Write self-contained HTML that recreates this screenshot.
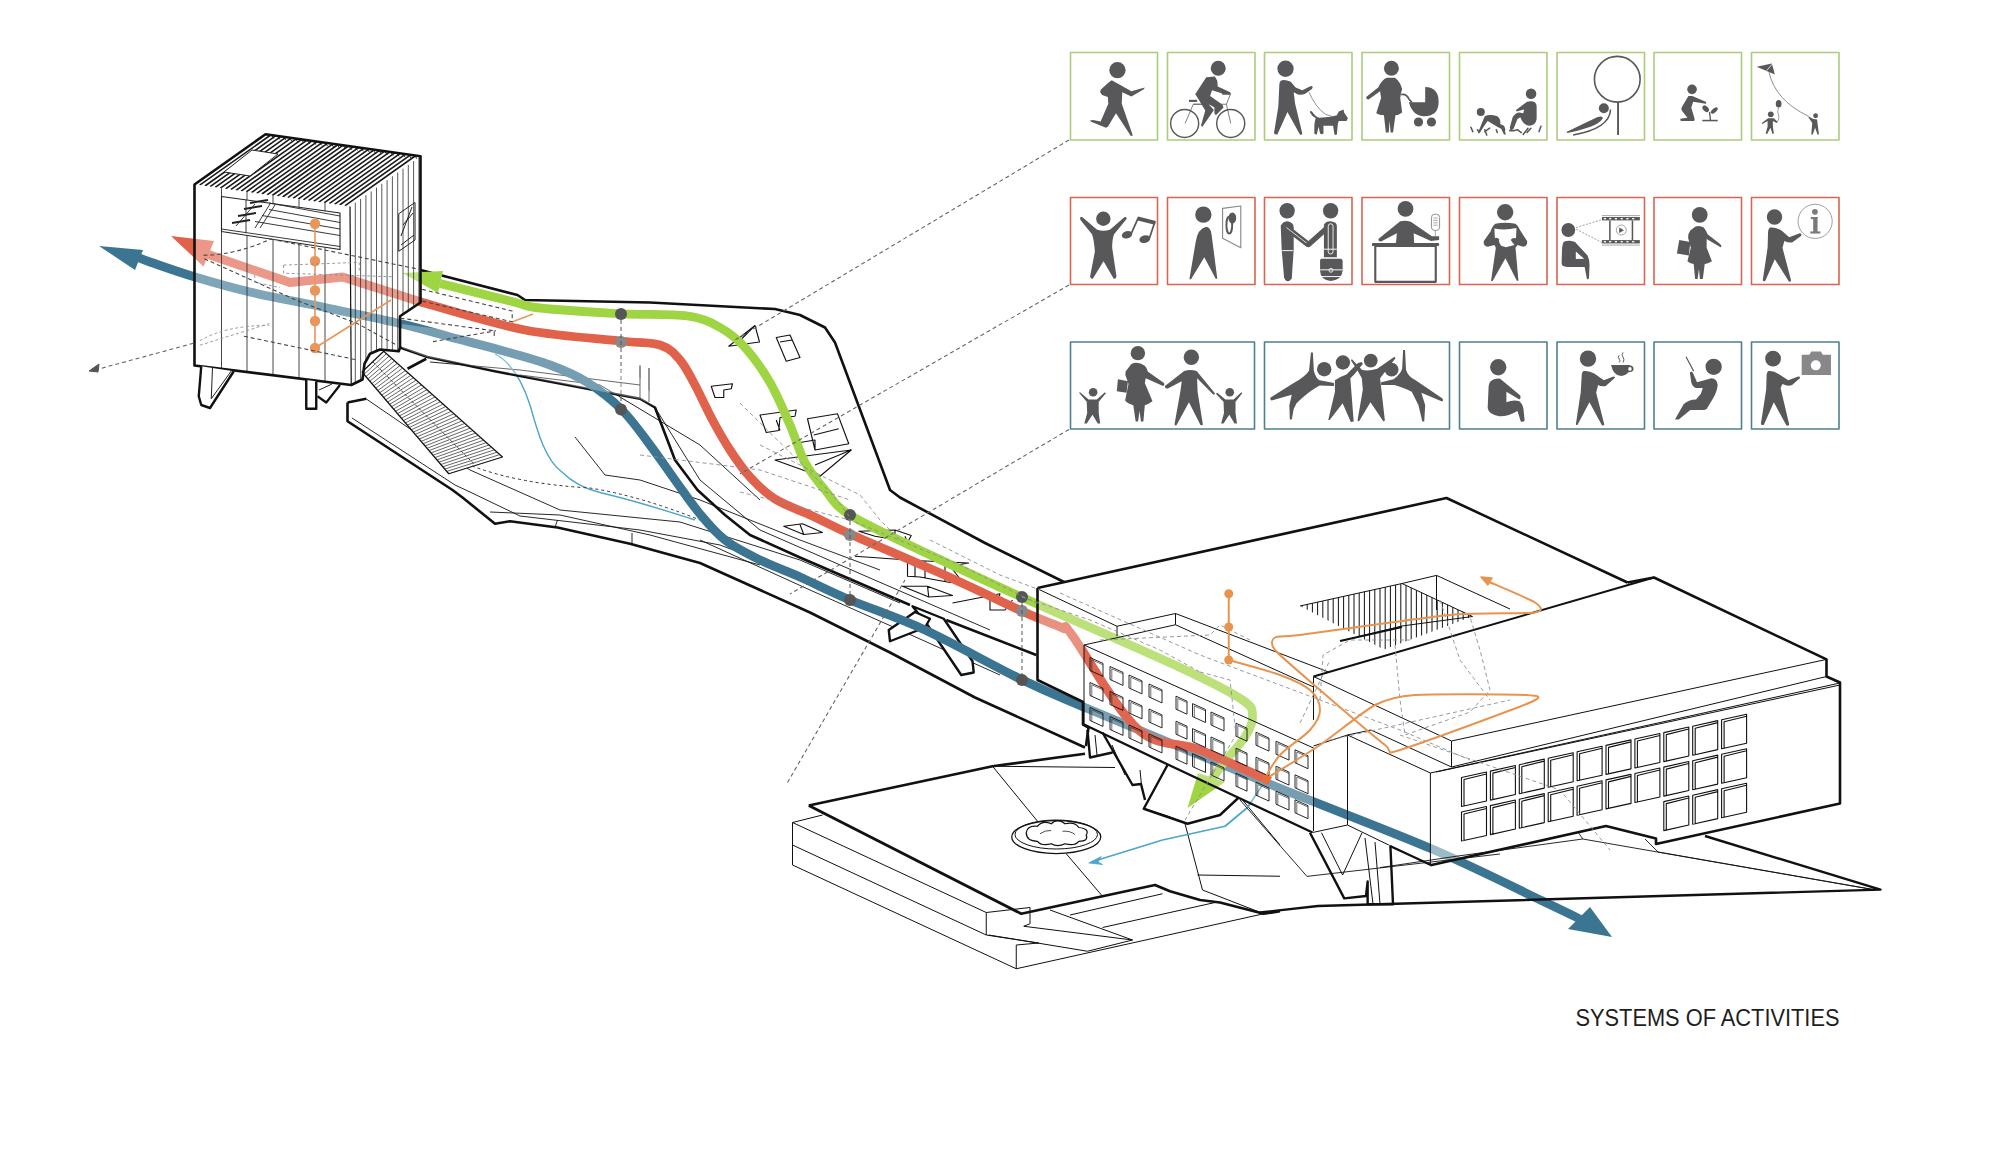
<!DOCTYPE html>
<html><head><meta charset="utf-8"><style>
html,body{margin:0;padding:0;background:#fff;width:2000px;height:1173px;overflow:hidden}
svg{display:block}
</style></head><body>
<svg width="2000" height="1173" viewBox="0 0 2000 1173" stroke-linejoin="round">
<g id="ground" fill="none" stroke="#111" stroke-linejoin="round" transform="translate(780,740) scale(0.25)">
 <g stroke-width="4">
  <path d="M50,330 L50,500 L945,915 L1935,695 M50,330 L170,300 M50,330 L825,690 L825,780 L50,420 M825,690 L1000,670 L1000,735 L975,745 M945,820 L945,915 M825,780 L1035,812 L945,820 M835,780 L1230,845 L1410,800 L975,745 M1080,680 L1410,800 M1160,700 L1530,615 M1290,750 L1740,650 M1620,335 L1690,600 L1935,695 M1670,540 L2000,545 M1850,240 L2000,420 M850,105 L1030,325 M1145,455 L1290,625 M850,105 L1340,110"/>
 </g>
 <path d="M115,262 L850,105 L1220,55 M115,262 L965,695 L1290,625 L1500,580 L1560,605 L1680,640 L1760,650 L1935,695 L2000,685" stroke-width="11"/>
 <!-- medallion -->
 <ellipse cx="1105" cy="388" rx="178" ry="66" stroke-width="5"/>
 <ellipse cx="1105" cy="378" rx="165" ry="58" stroke-width="4"/>
 <path d="M985,370 Q990,340 1030,345 Q1050,320 1085,335 Q1110,310 1140,335 Q1180,325 1195,350 Q1240,355 1225,380 Q1235,405 1195,405 Q1180,425 1140,415 Q1110,430 1085,415 Q1045,425 1030,405 Q985,405 985,370 Z" stroke-width="5"/>
 <path d="M1040,375 Q1060,360 1085,362 M1130,365 Q1160,362 1180,378" stroke-width="3"/>
 <!-- cyan arrow -->
 <path d="M1930,180 L1870,270 L1780,345 L1530,400 L1245,488" stroke="#4aa6cc" stroke-width="7"/>
 <path d="M1235,492 L1285,466 L1272,488 L1290,498 Z" fill="#4aa6cc" stroke="#4aa6cc" stroke-width="3"/>
</g>

<g id="deck" fill="none" stroke="#111" stroke-linejoin="round">
 <!-- deck surface fill to hide -->
 <!-- thin contour lines on lower platform -->
 <g stroke-width="0.9">
  <path d="M352,418 L455,485 L470,492 L520,516 L640,530 L720,545 L800,575 L905,620 L1000,668 L1085,712"/>
  <path d="M366,398.75 L470,470 L560,510 L680,522 L800,560 L900,603"/>
  <path d="M490,512 L560,515 L650,535 L760,565"/>
  <path d="M555,527.5 L557.5,520 M632,543 L632,533"/>
  <path d="M430,362 L520,370 L640,385"/>
  <path d="M520,375 L600,385 L700,445 L760,500"/>
  <path d="M575,437 L605,475 L640,480 L700,500"/>
  <path d="M640,365.5 L640,398.75 M649,368 L649,402"/>
  <path d="M655,407.5 L700,480 L760,530 L870,578 L990,630"/>
  <path d="M700,500 L800,540 L880,570"/>
  <path d="M700,540 L810,590 L900,630 L1000,675"/>
 </g>
 <!-- light blue line -->
 <path d="M495,353.75 C510,362 522,380 530,405 C537,430 545,460 562.5,472.5 C575,485 590,490 600,492.5 C640,502 670,512 695,520" stroke="#4aa6cc" stroke-width="1.4"/>
 <!-- stairs -->
 <path d="M362,372 L383.75,351.25 L502.5,457 L448.75,473.75 Z" fill="#fff" stroke-width="1.2"/>
 <path d="M364.0,374.3 L386.4,353.7 M365.9,376.6 L389.1,356.1 M367.9,378.9 L391.8,358.5 M369.9,381.2 L394.5,360.9 M371.9,383.6 L397.2,363.3 M373.8,385.9 L399.9,365.7 M375.8,388.2 L402.6,368.1 M377.8,390.5 L405.3,370.5 M379.7,392.8 L408.0,372.9 M381.7,395.1 L410.7,375.3 M383.7,397.4 L413.4,377.7 M385.7,399.8 L416.1,380.1 M387.6,402.1 L418.8,382.5 M389.6,404.4 L421.5,384.9 M391.6,406.7 L424.2,387.3 M393.5,409.0 L426.9,389.7 M395.5,411.3 L429.6,392.1 M397.5,413.6 L432.3,394.5 M399.5,415.9 L435.0,396.9 M401.4,418.2 L437.7,399.3 M403.4,420.6 L440.4,401.7 M405.4,422.9 L443.1,404.1 M407.3,425.2 L445.8,406.5 M409.3,427.5 L448.5,408.9 M411.3,429.8 L451.2,411.3 M413.3,432.1 L453.9,413.7 M415.2,434.4 L456.6,416.1 M417.2,436.8 L459.3,418.5 M419.2,439.1 L462.0,420.9 M421.1,441.4 L464.7,423.4 M423.1,443.7 L467.4,425.8 M425.1,446.0 L470.1,428.2 M427.1,448.3 L472.8,430.6 M429.0,450.6 L475.5,433.0 M431.0,452.9 L478.2,435.4 M433.0,455.2 L480.9,437.8 M434.9,457.6 L483.6,440.2 M436.9,459.9 L486.3,442.6 M438.9,462.2 L489.0,445.0 M440.9,464.5 L491.7,447.4 M442.8,466.8 L494.4,449.8 M444.8,469.1 L497.1,452.2 M446.8,471.4 L499.8,454.6" stroke="#333" stroke-width="0.75"/><path d="M373,362 L475,465" stroke="#333" stroke-width="0.9" stroke-dasharray="3 2"/>
 <path d="M400,320 L520,336 L640,372 L650,385 L654,406 L640,399 L427,357 L400,347 Z" fill="#fff" fill-opacity="0.0" stroke="none"/>
 <path d="M472,466 Q520,484 590,488 Q640,496 700,520" stroke="#333" stroke-width="1" stroke-dasharray="3 3"/>
 <!-- thick outlines -->
 <g stroke-width="2.6">
  <path d="M420.5,270 L517.5,295 L525,300 L650,302.5 L775,309 L800,315 L825,327.5 L835,342.5 L890,490 L900,497.5 L985,543 L1065,582.5"/>
  <path d="M400,347.5 L427.5,357 L495,371.25 L640,398.75 L655,407.5 L675,460 L697.5,490 L725,515 L750,535 L800,557.5 L910,605"/>
  <path d="M946.25,620 L1036.25,655"/>
  <path d="M347.5,402.5 L347.5,421.25 L452.5,490 L462.5,497.5 L495,523.75 L510,521.25 L557.5,527.5 L630,543.75 L700,563 L810,612.5 L890,652.5 L975,697.5 L1085,747.5"/>
  <path d="M347.5,402.5 L366.25,398.75 M407.5,368.75 L426.25,358.75"/>
 </g>
 <!-- X piloti -->
 <path d="M912.5,606.25 L943.75,618.75 L972.5,661.25 L973.75,672.5 L961.25,675 L927.5,625 Z" fill="#fff" stroke-width="2.4"/>
 <path d="M888.75,630 L890,641.25 L925,627.5 L930,618.75 L915,612 Z" fill="#fff" stroke-width="2.4"/>
 <!-- small skylight shapes on deck -->
 <g transform="translate(600,250) scale(0.25)" stroke-width="4.5">
  <path d="M515,385 L620,302 L638,368 Z M560,362 L620,302"/>
  <path d="M705,350 L760,340 L800,430 L745,445 Z M720,368 L768,360"/>
  <path d="M445,545 L530,535 L525,555 L495,560 L495,590 L460,590 Z"/>
  <path d="M640,660 L785,640 L780,665 L720,670 L715,722 L665,730 Z M705,680 L720,722"/>
  <path d="M830,675 L950,655 L995,775 L860,800 Z M855,740 L955,715 M800,770 L860,760 L860,800"/>
  <path d="M700,840 L1005,800 L880,905 Z M860,860 L1005,800"/>
  <path d="M735,1105 L810,1095 L890,1130 L815,1138 Z M800,1098 L815,1138"/>
 </g>
 <g transform="translate(700,480) scale(0.25)" stroke-width="4.5">
  <path d="M635,205 L780,200 L845,222 L830,250 L760,235 L700,225 Z M780,200 L780,230 M820,225 L830,250"/>
  <path d="M620,305 L860,322 L1075,332 L1000,345 L1040,395 L1000,410 L880,388 L830,385 L830,320 M860,322 L860,385 M900,325 L900,390 M980,345 L980,405"/>
  <path d="M810,425 L910,425 L1010,462 L915,468 Z M910,425 L915,468"/>
  <path d="M1010,492 L1200,455 L1190,490 M1160,470 L1160,520 L1220,520 L1250,480"/>
 </g>

</g>

<g id="arrows" fill="none" stroke-linejoin="round">
<path d="M137.0,257.0 C139.2,257.8 140.3,258.7 150.0,262.0 C159.7,265.3 178.3,272.0 195.0,277.0 C211.7,282.0 228.3,286.9 250.0,292.0 C271.7,297.1 300.0,302.2 325.0,307.5 C350.0,312.8 379.2,318.6 400.0,323.5 C420.8,328.4 433.3,332.6 450.0,337.0 C466.7,341.4 483.3,345.3 500.0,350.0 C516.7,354.7 535.4,359.6 550.0,365.0 C564.6,370.4 575.5,375.0 587.5,382.5 C599.5,390.0 611.6,399.6 622.0,410.0 C632.4,420.4 641.2,433.3 650.0,445.0 C658.8,456.7 666.7,468.5 675.0,480.0 C683.3,491.5 691.7,504.0 700.0,514.0 C708.3,524.0 715.0,532.3 725.0,540.0 C735.0,547.7 747.5,553.8 760.0,560.0 C772.5,566.2 785.0,570.3 800.0,577.0 C815.0,583.7 829.2,591.2 850.0,600.0 C870.8,608.8 896.2,616.7 925.0,630.0 C953.8,643.3 995.8,667.1 1022.5,680.0 C1049.2,692.9 1043.8,690.2 1085.0,707.5 C1126.2,724.8 1211.7,760.4 1269.5,784.0 C1327.3,807.6 1386.5,829.5 1432.0,849.0 C1477.5,868.5 1517.8,889.3 1542.5,901.0 C1567.2,912.7 1573.8,916.0 1580.0,919.0" stroke="#3b7592" stroke-width="8.8"/>
<path d="M99,246 L143,250 L135,270 Z" fill="#3b7592"/>
<path d="M1612,937 L1568,929 L1590,907 Z" fill="#3b7592"/>
<path d="M207.0,254.0 L290.0,282.5 L342.5,277.0 L422.5,302.5 L422.5,302.5 C439.6,307.1 491.9,323.6 525.0,330.0 C558.1,336.4 598.5,338.5 621.0,341.0 C643.5,343.5 650.2,341.8 660.0,345.0 C669.8,348.2 674.2,353.3 680.0,360.0 C685.8,366.7 689.6,375.0 695.0,385.0 C700.4,395.0 706.7,409.2 712.5,420.0 C718.3,430.8 723.8,440.5 730.0,450.0 C736.2,459.5 742.5,468.8 750.0,477.0 C757.5,485.2 764.6,492.5 775.0,499.0 C785.4,505.5 800.0,510.2 812.5,516.0 C825.0,521.8 827.1,523.8 850.0,534.0 C872.9,544.2 920.8,564.4 950.0,577.5 C979.2,590.6 1006.2,604.1 1025.0,612.5 C1043.8,620.9 1054.7,624.2 1062.5,628.0 C1070.3,631.8 1059.5,618.2 1072.0,635.0 C1084.5,651.8 1116.2,709.8 1137.5,729.0 C1158.8,748.2 1177.9,741.3 1200.0,750.0 C1222.1,758.7 1258.3,775.8 1270.0,781.0" stroke="#e0624b" stroke-width="8.8"/>
<path d="M171,236 L214,241 L203.5,266.5 Z" fill="#e0624b"/>
<path d="M440.0,283.5 C452.3,286.6 499.5,298.2 514.0,302.0 C528.5,305.8 521.0,304.8 527.0,306.0 C533.0,307.2 534.3,307.7 550.0,309.0 C565.7,310.3 598.1,312.6 621.0,313.8 C643.9,314.9 671.0,313.7 687.5,316.0 C704.0,318.3 710.4,322.2 720.0,327.5 C729.6,332.8 736.7,338.3 745.0,347.5 C753.3,356.7 762.5,369.6 770.0,382.5 C777.5,395.4 784.2,411.7 790.0,425.0 C795.8,438.3 799.2,451.7 805.0,462.5 C810.8,473.3 817.5,481.2 825.0,490.0 C832.5,498.8 833.3,504.6 850.0,515.0 C866.7,525.4 896.2,538.8 925.0,552.5 C953.8,566.2 980.0,578.3 1022.5,597.5 C1065.0,616.7 1143.3,650.4 1180.0,667.5 C1216.7,684.6 1230.4,691.8 1242.5,700.0 C1254.6,708.2 1252.1,710.8 1252.5,717.0 C1252.9,723.2 1250.1,729.0 1245.0,737.0 C1239.9,745.0 1228.2,757.0 1222.0,765.0 C1215.8,773.0 1210.3,781.7 1208.0,785.0" stroke="#9fd442" stroke-width="8.8"/>
<path d="M402.5,273 L443,271 L438,293 Z" fill="#9fd442"/>
<path d="M1187.5,808 L1198,773 L1225,782 Z" fill="#9fd442"/>
<g stroke="none"><circle cx="621" cy="314" r="6" fill="#555"/><circle cx="621" cy="342" r="6" fill="#888"/><circle cx="621" cy="409.5" r="6" fill="#555"/><circle cx="850" cy="515" r="6" fill="#555"/><circle cx="850" cy="535" r="6" fill="#888"/><circle cx="850" cy="600" r="6" fill="#555"/><circle cx="1022" cy="597" r="6" fill="#555"/><circle cx="1022" cy="611" r="6" fill="#888"/><circle cx="1022" cy="680" r="6" fill="#555"/></g>
<path d="M621,320 L621,404 M850,521 L850,595 M1022,603 L1022,675" stroke="#555" stroke-width="1" stroke-dasharray="4 3"/>
</g>
<g id="tower">
<defs><clipPath id="tclip"><path d="M194.5,184.5 L265.5,134.25 L420.5,156.25 L420.5,302.5 L400,316.25 L400,347.5 L398.75,351.25 L380,349.5 L370,353.75 L364.5,363.75 L362.5,379.5 L351.25,385 L194.5,365.5 Z"/></clipPath><clipPath id="topclip"><path d="M194.5,184.5 L265.5,134.25 L420.5,156.25 L350,206.5 Z"/></clipPath></defs>
<path d="M194.5,184.5 L265.5,134.25 L420.5,156.25 L420.5,302.5 L400,316.25 L400,347.5 L398.75,351.25 L380,349.5 L370,353.75 L364.5,363.75 L362.5,379.5 L351.25,385 L194.5,365.5 Z" fill="#fff" fill-opacity="0.35"/>
<path d="M194.5,184.5 L265.5,134.25 L420.5,156.25 L350,206.5 Z" fill="#fff"/>
<g clip-path="url(#topclip)"><path d="M199.7,185.2 L270.7,135.0 M204.9,186.0 L275.9,135.7 M210.1,186.7 L281.1,136.4 M215.2,187.4 L286.2,137.2 M220.4,188.2 L291.4,137.9 M225.6,188.9 L296.6,138.7 M230.8,189.6 L301.8,139.4 M236.0,190.4 L307.0,140.1 M241.2,191.1 L312.1,140.8 M246.3,191.8 L317.3,141.6 M251.5,192.6 L322.5,142.3 M256.7,193.3 L327.7,143.1 M261.9,194.0 L332.9,143.8 M267.1,194.8 L338.1,144.5 M272.2,195.5 L343.2,145.2 M277.4,196.2 L348.4,146.0 M282.6,197.0 L353.6,146.7 M287.8,197.7 L358.8,147.4 M293.0,198.4 L364.0,148.2 M298.2,199.2 L369.2,148.9 M303.4,199.9 L374.4,149.7 M308.5,200.6 L379.5,150.4 M313.7,201.4 L384.7,151.1 M318.9,202.1 L389.9,151.8 M324.1,202.8 L395.1,152.6 M329.3,203.6 L400.3,153.3 M334.5,204.3 L405.5,154.1 M339.6,205.0 L410.6,154.8 M344.8,205.8 L415.8,155.5" stroke="#1a1a1a" stroke-width="1.6" fill="none"/>
<path d="M271.5,135.1 l2.5,3.5 M277.4,135.9 l2.5,3.5 M283.4,136.8 l2.5,3.5 M289.3,137.6 l2.5,3.5 M295.3,138.5 l2.5,3.5 M301.3,139.3 l2.5,3.5 M307.2,140.2 l2.5,3.5 M313.2,141.0 l2.5,3.5 M319.2,141.9 l2.5,3.5 M325.1,142.7 l2.5,3.5 M331.1,143.6 l2.5,3.5 M337.0,144.4 l2.5,3.5 M343.0,145.2 l2.5,3.5 M349.0,146.1 l2.5,3.5 M354.9,146.9 l2.5,3.5 M360.9,147.8 l2.5,3.5 M366.8,148.6 l2.5,3.5 M372.8,149.5 l2.5,3.5 M378.8,150.3 l2.5,3.5 M384.7,151.2 l2.5,3.5 M390.7,152.0 l2.5,3.5 M396.7,152.9 l2.5,3.5 M402.6,153.7 l2.5,3.5 M408.6,154.6 l2.5,3.5 M414.5,155.4 l2.5,3.5" stroke="#222" stroke-width="1" fill="none"/>
<path d="M224,172 L252,150 L278,154 L250,176 Z" fill="#fff" stroke="#222" stroke-width="1"/>
</g>
<g clip-path="url(#tclip)"><path d="M221.5,188.3 L221.5,368.9 M247.0,191.9 L247.0,372.0 M273.0,195.6 L273.0,375.3 M299.0,199.3 L299.0,378.5 M325.0,203.0 L325.0,381.7" stroke="#333" stroke-width="0.9" fill="none"/><path d="M355.3,202.7 L355.3,400.0 M360.6,198.9 L360.6,400.0 M365.9,195.2 L365.9,400.0 M371.2,191.4 L371.2,400.0 M376.5,187.6 L376.5,400.0 M381.8,183.8 L381.8,400.0 M387.1,180.1 L387.1,400.0 M392.4,176.3 L392.4,400.0 M397.7,172.5 L397.7,400.0 M403.0,168.7 L403.0,400.0 M408.3,164.9 L408.3,400.0 M413.6,161.2 L413.6,400.0 M418.9,157.4 L418.9,400.0" stroke="#222" stroke-width="0.75" fill="none"/></g>
<path d="M350,206.5 L351.25,385" stroke="#111" stroke-width="1.2"/>
<path d="M221.5,196.5 L340,213 L340,249.5 L221.5,231.5 Z" fill="#fff" stroke="#222" stroke-width="1.1"/>
<path d="M221.5,229 L340,246.5 M246,200 L246,233" stroke="#222" stroke-width="0.9" fill="none"/>
<path d="M269,203 L340,216 M269,209.5 L340,222.5 M262,215.5 L340,229 M255,221.5 L340,235.5" stroke="#222" stroke-width="0.9" fill="none"/>
<path d="M255,228 L270,204 M260,228 L275,205 M236,226 L255,204" stroke="#222" stroke-width="0.9" fill="none"/>
<path d="M232,223 l18,-3 M238,216 l18,-3 M244,209 l18,-3 M250,203 l18,-3" stroke="#222" stroke-width="2" fill="none"/>
<path d="M398.75,213.75 L415,202.5 L415,240 L398.75,251.25 Z" fill="none" stroke="#222" stroke-width="1"/>
<path d="M401,236 L412,207 M403,225 L413,213 M401,245 L414,235" stroke="#222" stroke-width="1" fill="none"/>
<path d="M194.5,184.5 L265.5,134.25 L420.5,156.25 L420.5,302.5 L400,316.25 L400,347.5 L398.75,351.25 L380,349.5 L370,353.75 L364.5,363.75 L362.5,379.5 L351.25,385 L194.5,365.5 Z" fill="none" stroke="#111" stroke-width="2.6"/>
<path d="M201.25,366.25 L198.75,396.25 L201.25,405 L210,408 L233.75,371.25" fill="#fff" stroke="#111" stroke-width="2.4"/>
<path d="M212.5,367.5 L211.25,398.75 M211.25,398.75 L232,370" stroke="#222" stroke-width="1" fill="none"/>
<path d="M306.25,380 L306.25,408.75 L316.25,408.75 L316.25,381.25" fill="#fff" stroke="#111" stroke-width="2.4"/>
<path d="M317.5,396.25 L326.25,402.5 L340,385" fill="none" stroke="#111" stroke-width="2.2"/>
<path d="M319,390 L332,384" fill="none" stroke="#222" stroke-width="1"/>
<g fill="#e8965a" stroke="#e8965a"><path d="M315,224 L315,348 L391,300" stroke-width="1.6" fill="none"/><path d="M512,322 L533,314" stroke-width="1.4" fill="none"/>
<circle cx="315" cy="223.8" r="5.2" stroke="none"/>
<circle cx="315" cy="261.0" r="5.2" stroke="none"/>
<circle cx="315" cy="290.5" r="5.2" stroke="none"/>
<circle cx="315" cy="321.0" r="5.2" stroke="none"/>
<circle cx="315" cy="348.0" r="5.2" stroke="none"/>
</g></g>

<g id="building" fill="none" stroke="#111" stroke-linejoin="round">
<path d="M402,324 L520,340 L600,362 L640,378 L650,392 L654,406 L640,399 L427,357 L402,348 Z" fill="#fff" fill-opacity="0.3" stroke="none"/>
<path d="M1037.5,588 L1117,626 L1175.5,613.5 L1328.5,672 L1313.5,676.5 L1313.5,832 L1166,764 L1088,727.5 L1083,702 L1037.5,680 Z" fill="#fff" fill-opacity="0.3" stroke="none"/>
<path d="M1313.5,676.5 L1654,577.5 L1826.5,659.4 L1826.5,676.5 L1840,682.5 L1840,803.5 L1656,844 L1656,838.6 L1606,826 L1430.4,865.25 L1430.4,773 L1347.5,735 L1313.5,720 Z" fill="#fff" fill-opacity="0.5" stroke="none"/>
<path d="M1037.5,588 L1446.5,498 L1627.5,582.5 L1654,577.5 L1313.5,676.5 L1117,626 Z" fill="#fff" stroke="none"/>
<defs><clipPath id="court"><path d="M1300,606 L1402,583.5 L1472.5,616.5 L1384,649.5 Z"/></clipPath></defs>
<g clip-path="url(#court)"><path d="M1302.0,560 L1302.0,660 M1307.2,560 L1307.2,660 M1312.4,560 L1312.4,660 M1317.6,560 L1317.6,660 M1322.8,560 L1322.8,660 M1328.0,560 L1328.0,660 M1333.2,560 L1333.2,660 M1338.4,560 L1338.4,660 M1343.6,560 L1343.6,660 M1348.8,560 L1348.8,660 M1354.0,560 L1354.0,660 M1359.2,560 L1359.2,660 M1364.4,560 L1364.4,660 M1369.6,560 L1369.6,660 M1374.8,560 L1374.8,660 M1380.0,560 L1380.0,660 M1385.2,560 L1385.2,660 M1390.4,560 L1390.4,660 M1395.6,560 L1395.6,660 M1400.8,560 L1400.8,660 M1406.0,560 L1406.0,660 M1411.2,560 L1411.2,660 M1416.4,560 L1416.4,660 M1421.6,560 L1421.6,660 M1426.8,560 L1426.8,660 M1432.0,560 L1432.0,660 M1437.2,560 L1437.2,660 M1442.4,560 L1442.4,660 M1447.6,560 L1447.6,660 M1452.8,560 L1452.8,660 M1458.0,560 L1458.0,660 M1463.2,560 L1463.2,660 M1468.4,560 L1468.4,660 M1473.6,560 L1473.6,660" stroke-width="1"/></g>
<path d="M1300,606 L1402,583.5 L1472.5,616.5 M1402,583.5 L1436.5,575.4 L1510,609 M1436.5,575.4 L1436.5,610 M1345,640 L1402,626 L1472.5,616.5" stroke-width="1"/>
<path d="M1340,641 L1402,627" stroke-width="2"/>
<path d="M1037.5,588 L1446.5,498 L1627.5,582.5 M1627.5,582.5 L1654,577.5 L1826.5,659.4 L1826.5,676.5 L1840,682.5 L1840,803.5 L1656,844 L1656,838.6 L1606,826 L1430.4,865.25" stroke-width="2.6"/>
<path d="M1313.5,676.5 L1654,577.5" stroke-width="2"/>
<path d="M1037.5,588 L1037.5,680 L1083,702 L1083,724.5 L1088.5,727.5 L1086,746" stroke-width="2.6"/>
<path d="M1313.5,676.5 L1451.5,741 L1826.5,659.4 M1451.5,741 L1451.5,767 L1826.5,676.5 M1313.5,676.5 L1313.5,720 M1430.4,773 L1840,683 M1430.4,773 L1430.4,865.25 M1347.5,735 L1430.4,773 M1347.5,735 L1347.5,825 L1430.4,865.25 M1347.5,735 L1371,730 L1451.5,767 M1436,772 L1840,685" stroke-width="1"/>
<path d="M1461.5,777.5 L1486.5,772.0 L1486.5,801.0 L1461.5,806.5 Z M1464.0,806.5 L1464.0,779.5 L1486.5,774.0 M1461.5,812.0 L1486.5,806.5 L1486.5,835.5 L1461.5,841.0 Z M1464.0,841.0 L1464.0,814.0 L1486.5,808.5 M1490.4,771.1 L1515.4,765.5 L1515.4,794.5 L1490.4,800.1 Z M1492.9,800.1 L1492.9,773.1 L1515.4,767.5 M1490.4,805.6 L1515.4,800.0 L1515.4,829.0 L1490.4,834.6 Z M1492.9,834.6 L1492.9,807.6 L1515.4,802.0 M1519.3,764.7 L1544.3,759.1 L1544.3,788.1 L1519.3,793.7 Z M1521.8,793.7 L1521.8,766.7 L1544.3,761.1 M1519.3,799.2 L1544.3,793.6 L1544.3,822.6 L1519.3,828.2 Z M1521.8,828.2 L1521.8,801.2 L1544.3,795.6 M1548.2,758.3 L1573.2,752.7 L1573.2,781.7 L1548.2,787.3 Z M1550.7,787.3 L1550.7,760.3 L1573.2,754.7 M1548.2,792.8 L1573.2,787.2 L1573.2,816.2 L1548.2,821.8 Z M1550.7,821.8 L1550.7,794.8 L1573.2,789.2 M1577.1,751.8 L1602.1,746.3 L1602.1,775.3 L1577.1,780.8 Z M1579.6,780.8 L1579.6,753.8 L1602.1,748.3 M1577.1,786.3 L1602.1,780.8 L1602.1,809.8 L1577.1,815.3 Z M1579.6,815.3 L1579.6,788.3 L1602.1,782.8 M1606.0,745.4 L1631.0,739.9 L1631.0,768.9 L1606.0,774.4 Z M1608.5,774.4 L1608.5,747.4 L1631.0,741.9 M1606.0,779.9 L1631.0,774.4 L1631.0,803.4 L1606.0,808.9 Z M1608.5,808.9 L1608.5,781.9 L1631.0,776.4 M1634.9,739.0 L1659.9,733.5 L1659.9,762.5 L1634.9,768.0 Z M1637.4,768.0 L1637.4,741.0 L1659.9,735.5 M1634.9,773.5 L1659.9,768.0 L1659.9,797.0 L1634.9,802.5 Z M1637.4,802.5 L1637.4,775.5 L1659.9,770.0 M1663.8,732.6 L1688.8,727.0 L1688.8,756.0 L1663.8,761.6 Z M1666.3,761.6 L1666.3,734.6 L1688.8,729.0 M1663.8,767.1 L1688.8,761.5 L1688.8,790.5 L1663.8,796.1 Z M1666.3,796.1 L1666.3,769.1 L1688.8,763.5 M1663.8,801.6 L1688.8,796.0 L1688.8,825.0 L1663.8,830.6 Z M1666.3,830.6 L1666.3,803.6 L1688.8,798.0 M1692.7,726.2 L1717.7,720.6 L1717.7,749.6 L1692.7,755.2 Z M1695.2,755.2 L1695.2,728.2 L1717.7,722.6 M1692.7,760.7 L1717.7,755.1 L1717.7,784.1 L1692.7,789.7 Z M1695.2,789.7 L1695.2,762.7 L1717.7,757.1 M1692.7,795.2 L1717.7,789.6 L1717.7,818.6 L1692.7,824.2 Z M1695.2,824.2 L1695.2,797.2 L1717.7,791.6 M1721.6,719.8 L1746.6,714.2 L1746.6,743.2 L1721.6,748.8 Z M1724.1,748.8 L1724.1,721.8 L1746.6,716.2 M1721.6,754.3 L1746.6,748.7 L1746.6,777.7 L1721.6,783.3 Z M1724.1,783.3 L1724.1,756.3 L1746.6,750.7 M1721.6,788.8 L1746.6,783.2 L1746.6,812.2 L1721.6,817.8 Z M1724.1,817.8 L1724.1,790.8 L1746.6,785.2" stroke-width="1.1"/>
<!-- redtop --><defs><clipPath id="mwclip"><path d="M1084,645 L1313.5,748 L1313.5,832 L1166,764 L1084,724.5 Z"/></clipPath></defs><path d="M207.0,254.0 L290.0,282.5 L342.5,277.0 L422.5,302.5 L422.5,302.5 C439.6,307.1 491.9,323.6 525.0,330.0 C558.1,336.4 598.5,338.5 621.0,341.0 C643.5,343.5 650.2,341.8 660.0,345.0 C669.8,348.2 674.2,353.3 680.0,360.0 C685.8,366.7 689.6,375.0 695.0,385.0 C700.4,395.0 706.7,409.2 712.5,420.0 C718.3,430.8 723.8,440.5 730.0,450.0 C736.2,459.5 742.5,468.8 750.0,477.0 C757.5,485.2 764.6,492.5 775.0,499.0 C785.4,505.5 800.0,510.2 812.5,516.0 C825.0,521.8 827.1,523.8 850.0,534.0 C872.9,544.2 920.8,564.4 950.0,577.5 C979.2,590.6 1006.2,604.1 1025.0,612.5 C1043.8,620.9 1054.7,624.2 1062.5,628.0 C1070.3,631.8 1059.5,618.2 1072.0,635.0 C1084.5,651.8 1116.2,709.8 1137.5,729.0 C1158.8,748.2 1177.9,741.3 1200.0,750.0 C1222.1,758.7 1258.3,775.8 1270.0,781.0" stroke="#e0624b" stroke-width="8.8" clip-path="url(#mwclip)" stroke-opacity="0.9"/><!-- /redtop --><path d="M1037.5,588.75 L1117,626.25 L1117,636 M1117,626.25 L1175.5,613.5 L1328.5,672 M1175.5,613.5 L1175.5,624.75 M1084,645 L1175.5,624.75 L1313.5,687 M1084,645 L1313.5,748 M1084,645 L1084,724.5 M1313.5,748 L1313.5,831 M1313.5,746 L1347.5,735" stroke-width="1"/>
<path d="M1084,724.5 L1166.25,763.75 L1312.5,832.5" stroke-width="2.4"/><path d="M1312.5,832.5 L1347.5,825" stroke-width="1"/>
<path d="M1090.0,657.5 l13.0,5.9 l0,13.0 l-13.0,-5.9 Z M1090.0,682.5 l13.0,5.9 l0,13.0 l-13.0,-5.9 Z M1090.0,707.5 l13.0,5.9 l0,13.0 l-13.0,-5.9 Z M1110.0,666.5 l13.0,5.9 l0,13.0 l-13.0,-5.9 Z M1110.0,691.5 l13.0,5.9 l0,13.0 l-13.0,-5.9 Z M1110.0,716.5 l13.0,5.9 l0,13.0 l-13.0,-5.9 Z M1129.0,675.0 l13.0,5.9 l0,13.0 l-13.0,-5.9 Z M1129.0,700.0 l13.0,5.9 l0,13.0 l-13.0,-5.9 Z M1129.0,725.0 l13.0,5.9 l0,13.0 l-13.0,-5.9 Z M1149.0,684.0 l13.0,5.9 l0,13.0 l-13.0,-5.9 Z M1149.0,709.0 l13.0,5.9 l0,13.0 l-13.0,-5.9 Z M1149.0,734.0 l13.0,5.9 l0,13.0 l-13.0,-5.9 Z M1176.0,696.2 l11.0,5.0 l0,13.0 l-11.0,-5.0 Z M1176.0,721.2 l11.0,5.0 l0,13.0 l-11.0,-5.0 Z M1176.0,746.2 l11.0,5.0 l0,13.0 l-11.0,-5.0 Z M1192.5,703.6 l13.0,5.9 l0,13.0 l-13.0,-5.9 Z M1192.5,728.6 l13.0,5.9 l0,13.0 l-13.0,-5.9 Z M1192.5,753.6 l13.0,5.9 l0,13.0 l-13.0,-5.9 Z M1211.0,712.0 l13.0,5.9 l0,13.0 l-13.0,-5.9 Z M1211.0,737.0 l13.0,5.9 l0,13.0 l-13.0,-5.9 Z M1211.0,762.0 l13.0,5.9 l0,13.0 l-13.0,-5.9 Z M1236.0,723.2 l11.0,5.0 l0,13.0 l-11.0,-5.0 Z M1236.0,748.2 l11.0,5.0 l0,13.0 l-11.0,-5.0 Z M1236.0,773.2 l11.0,5.0 l0,13.0 l-11.0,-5.0 Z M1256.0,732.2 l13.0,5.9 l0,13.0 l-13.0,-5.9 Z M1256.0,757.2 l13.0,5.9 l0,13.0 l-13.0,-5.9 Z M1256.0,782.2 l13.0,5.9 l0,13.0 l-13.0,-5.9 Z M1276.0,741.2 l13.0,5.9 l0,13.0 l-13.0,-5.9 Z M1276.0,766.2 l13.0,5.9 l0,13.0 l-13.0,-5.9 Z M1276.0,791.2 l13.0,5.9 l0,13.0 l-13.0,-5.9 Z M1295.0,749.8 l13.0,5.9 l0,13.0 l-13.0,-5.9 Z M1295.0,774.8 l13.0,5.9 l0,13.0 l-13.0,-5.9 Z M1295.0,799.8 l13.0,5.9 l0,13.0 l-13.0,-5.9 Z" stroke-width="0.9"/><path d="M1091.8,671.3 l0,-11.5 l11.2,5.0 M1091.8,696.3 l0,-11.5 l11.2,5.0 M1091.8,721.3 l0,-11.5 l11.2,5.0 M1111.8,680.3 l0,-11.5 l11.2,5.0 M1111.8,705.3 l0,-11.5 l11.2,5.0 M1111.8,730.3 l0,-11.5 l11.2,5.0 M1130.8,688.8 l0,-11.5 l11.2,5.0 M1130.8,713.8 l0,-11.5 l11.2,5.0 M1130.8,738.8 l0,-11.5 l11.2,5.0 M1150.8,697.8 l0,-11.5 l11.2,5.0 M1150.8,722.8 l0,-11.5 l11.2,5.0 M1150.8,747.8 l0,-11.5 l11.2,5.0 M1177.8,710.0 l0,-11.5 l9.2,4.1 M1177.8,735.0 l0,-11.5 l9.2,4.1 M1177.8,760.0 l0,-11.5 l9.2,4.1 M1194.3,717.4 l0,-11.5 l11.2,5.0 M1194.3,742.4 l0,-11.5 l11.2,5.0 M1194.3,767.4 l0,-11.5 l11.2,5.0 M1212.8,725.8 l0,-11.5 l11.2,5.0 M1212.8,750.8 l0,-11.5 l11.2,5.0 M1212.8,775.8 l0,-11.5 l11.2,5.0 M1237.8,737.0 l0,-11.5 l9.2,4.1 M1237.8,762.0 l0,-11.5 l9.2,4.1 M1237.8,787.0 l0,-11.5 l9.2,4.1 M1257.8,746.0 l0,-11.5 l11.2,5.0 M1257.8,771.0 l0,-11.5 l11.2,5.0 M1257.8,796.0 l0,-11.5 l11.2,5.0 M1277.8,755.0 l0,-11.5 l11.2,5.0 M1277.8,780.0 l0,-11.5 l11.2,5.0 M1277.8,805.0 l0,-11.5 l11.2,5.0 M1296.8,763.5 l0,-11.5 l11.2,5.0 M1296.8,788.5 l0,-11.5 l11.2,5.0 M1296.8,813.5 l0,-11.5 l11.2,5.0" stroke-width="0.7" stroke="#333"/>
<path d="M1087.5,730 L1090,757.5 L1112.5,752.5 M1102.5,732.5 L1132.5,785 L1141,784 L1145,800 M1167.5,765 L1143.75,808.75 L1187.5,823.75 L1220,815 L1238.75,797.5" stroke-width="2.4"/>
<path d="M1143.75,808.75 L1167.5,816 L1187.5,823.75 M1095,735 L1097,755 M1112,745 L1125,775 M1140,770 L1142,790" stroke-width="1"/>
<path d="M1310,832.75 L1344.25,898.4 L1366,896 L1367.65,881.5 L1367.65,904.25 L1393,904.25 L1390.4,845.75" fill="#fff" stroke-width="2.4"/>
<path d="M1321.5,832.75 L1342.6,875 L1362,832.75 M1365,838 L1373,904 M1375,842 L1380,904" stroke-width="1"/>
</g>
<g id="overlay" fill="none" stroke-linejoin="round">
<path d="M1260,912.5 L1318,906 L1880.5,889.6 L1705,836" stroke="#111" stroke-width="2.4"/>
<path d="M1380,867.6 L1458,856 L1582.8,839 L1874,889.7 M1582.8,839 L1578,832 M1658,852 L1874,889.7 M1645,839 L1658,852 M1307,876.4 L1500,854 M1240,800 L1307,876.4" stroke="#111" stroke-width="0.9"/><path d="M1390,846 L1431,865" stroke="#111" stroke-width="2.4"/>
<g stroke="#666" stroke-width="1.1" stroke-dasharray="4 3">
<path d="M1069,140 L735,340 M1069,285 L740,474 M1069,429.5 L790,594 M787.5,782.5 L905,580"/>
<path d="M95,370 L194.5,343"/>
</g>
<path d="M89,371 L99,364 L98,372 Z" fill="#555" stroke="#555" stroke-width="1"/>
<g stroke="#8a8f96" stroke-width="0.9" stroke-dasharray="4 3">
<path d="M740,403 L832,494 L849,516 M740,492 L850,520 L960,565 L1040,605 M760,445 L860,495 L880,520 L900,540 M930,540 L1000,575 L1040,590 M1022,597 L1090,620 L1160,650 L1200,672 M1060,593 L1200,655 L1320,700 L1400,730 L1470,760 M1100,640 L1210,635 L1220,625 L1250,640 M1200,672 L1230,680 L1236,735 L1185,820 M1320,700 L1323,655 L1350,640 L1410,640 M1300,723 L1330,660 M1395,645 L1400,700 L1405,735 L1470,712 L1490,690 L1480,650 L1470,617 M1330,740 L1510,700 M1400,735 L1560,790 L1610,850 M1440,600 L1460,660 L1490,700"/>
<path d="M640,455 L760,470 L850,500"/>
</g>
<g transform="translate(190,230) scale(0.18)" fill="none">
 <path d="M75,140 Q250,140 450,50 M80,160 L590,390 L930,520 L1150,640 M450,50 L1280,220 M300,590 L920,720 M1290,330 L1790,450 L1790,510 L1290,395 M1170,490 L1690,560 L1690,600 M1350,620 L1700,560" stroke="#444" stroke-width="6" stroke-dasharray="22 16"/>
 <path d="M55,640 L440,520 M55,615 Q200,530 440,530 M520,195 L940,180 L940,230 M520,195 L520,240 L1130,260 M360,250 L360,290 L500,320" stroke="#8a8f96" stroke-width="5" stroke-dasharray="16 14"/>
</g>
<g>
</g>
<path d="M1228.8,660.0 C1237.3,662.5 1266.5,670.0 1280.0,675.0 C1293.5,680.0 1303.3,684.2 1310.0,690.0 C1316.7,695.8 1320.0,703.3 1320.0,710.0 C1320.0,716.7 1316.7,722.5 1310.0,730.0 C1303.3,737.5 1287.7,746.7 1280.0,755.0 C1272.3,763.3 1266.7,775.8 1264.0,780.0" stroke="#e8944f" stroke-width="2"/>
<path d="M1264.0,780.0 C1270.5,775.9 1307.0,753.8 1320.0,745.0 C1333.0,736.2 1363.9,710.8 1375.0,705.0 C1386.1,699.2 1397.5,696.2 1415.0,695.0 C1432.5,693.8 1511.6,694.1 1525.0,695.0 C1538.4,695.9 1544.6,696.1 1530.0,702.5 C1515.4,708.9 1416.9,745.0 1400.0,750.0 C1383.1,755.0 1394.3,752.0 1385.0,745.0 C1375.7,738.0 1332.8,701.1 1320.0,690.0 C1307.2,678.9 1280.2,656.1 1275.0,650.0 C1269.8,643.9 1272.1,639.2 1275.0,637.5 C1277.9,635.8 1279.6,637.6 1300.0,635.0 C1320.4,632.4 1422.6,617.6 1450.0,615.0 C1477.4,612.4 1525.1,614.0 1535.0,612.5 C1544.9,611.0 1540.6,606.2 1535.0,602.5 C1529.4,598.8 1492.6,583.5 1487.0,581.0" stroke="#e8944f" stroke-width="2"/>
<path d="M1481,577 L1492,578 L1488,585 Z" fill="#e8944f" stroke="#e8944f" stroke-width="1.5"/>
<path d="M1228.75,593.75 L1228.75,660" stroke="#e8944f" stroke-width="2"/>
<circle cx="1228.75" cy="593.8" r="4.5" fill="#e8944f"/>
<circle cx="1228.75" cy="627.0" r="4.5" fill="#e8944f"/>
<circle cx="1228.75" cy="660.0" r="4.5" fill="#e8944f"/>
<circle cx="1266" cy="779" r="4" fill="#e66f3a"/>
</g>
<g id="boxes" fill="none" stroke-width="1.6">
  <g stroke="#aacd7c">
    <rect x="1070.5" y="52.5" width="87" height="87.5"/>
    <rect x="1167.5" y="52.5" width="87.5" height="87.5"/>
    <rect x="1264.5" y="52.5" width="87.5" height="87.5"/>
    <rect x="1362" y="52.5" width="87.5" height="87.5"/>
    <rect x="1459.5" y="52.5" width="87.5" height="87.5"/>
    <rect x="1557" y="52.5" width="87.5" height="87.5"/>
    <rect x="1654" y="52.5" width="87.5" height="87.5"/>
    <rect x="1751.5" y="52.5" width="87.5" height="87.5"/>
  </g>
  <g stroke="#d9644f">
    <rect x="1070.5" y="197.5" width="87" height="87"/>
    <rect x="1167.5" y="197.5" width="87.5" height="87"/>
    <rect x="1264.5" y="197.5" width="87.5" height="87"/>
    <rect x="1362" y="197.5" width="87.5" height="87"/>
    <rect x="1459.5" y="197.5" width="87.5" height="87"/>
    <rect x="1557" y="197.5" width="87.5" height="87"/>
    <rect x="1654" y="197.5" width="87.5" height="87"/>
    <rect x="1751.5" y="197.5" width="87.5" height="87"/>
  </g>
  <g stroke="#4f8090">
    <rect x="1070.5" y="342" width="184" height="87"/>
    <rect x="1264.5" y="342" width="185" height="87"/>
    <rect x="1459.5" y="342" width="87.5" height="87"/>
    <rect x="1557" y="342" width="87.5" height="87"/>
    <rect x="1654" y="342" width="87.5" height="87"/>
    <rect x="1751.5" y="342" width="87.5" height="87"/>
  </g>
</g>
<g id="figs" fill="#58585b">
 <!-- row1 a: offset 1068,50 -->
 <g transform="translate(1068,50) scale(0.096)">
  <circle cx="515" cy="210" r="85"/>
  <path d="M455,315 L545,365 L660,430 L800,390 L790,410 L660,485 L565,440 L560,560 L675,890 L655,895 L500,660 L415,800 L395,810 L235,745 L230,735 L260,730 L340,745 L420,560 L415,490 L355,470 L335,440 L340,415 L420,340 Z"/>
  <circle cx="1565" cy="190" r="78"/>
  <path d="M1440,285 L1530,275 L1555,320 L1560,380 L1690,440 L1700,465 L1610,465 L1600,450 L1500,420 L1480,480 L1610,570 L1620,600 L1540,680 L1525,660 L1525,600 L1460,560 L1520,625 L1400,800 L1385,790 L1430,630 L1345,490 L1325,460 Z"/>
  <g fill="none" stroke="#58585b" stroke-width="11">
   <circle cx="1215" cy="765" r="146" stroke-width="15"/>
   <circle cx="1695" cy="765" r="146" stroke-width="15"/>
   <path d="M1220,765 L1305,565 L1650,565 L1695,765 M1650,565 L1690,465 M1305,565 L1400,565" stroke-width="8"/>
   <path d="M1260,530 L1345,530" stroke-width="22"/>
  </g>
  <!-- box3 dog walker offset: shift 194 source = 2021 zoom -->
 </g>
 <g transform="translate(1262,50) scale(0.096)">
  <circle cx="245" cy="195" r="85"/>
  <path d="M195,320 Q230,300 300,330 L350,390 L420,420 L510,375 Q540,380 520,405 L450,455 Q410,475 370,460 L330,440 L345,560 L420,870 Q415,890 395,880 L265,645 L160,880 Q130,885 125,865 L170,590 L180,370 Q180,330 195,320 Z"/>
  <path d="M490,440 Q560,600 660,670 L770,705" fill="none" stroke="#58585b" stroke-width="7"/>
  <path d="M500,640 Q510,630 525,645 Q560,700 600,705 L720,695 L780,680 L800,640 L850,620 L855,650 L895,710 L880,740 L800,740 L790,770 L780,880 Q770,890 755,880 L740,790 L640,790 L640,870 Q630,885 605,870 L590,800 L570,880 Q560,885 545,870 L545,790 Q550,730 560,710 Q520,690 500,650 Z"/>
  <circle cx="1348" cy="190" r="78"/>
  <path d="M1300,290 L1385,290 Q1440,330 1460,410 L1450,440 L1440,500 L1460,650 Q1420,680 1390,680 L1365,860 L1340,860 L1330,740 L1320,860 L1290,860 L1270,680 Q1220,680 1190,660 L1240,500 L1230,430 L1110,515 Q1085,520 1085,490 L1210,390 Q1250,310 1300,290 Z"/>
  <path d="M1450,465 Q1500,450 1530,510 L1560,545" fill="none" stroke="#58585b" stroke-width="18"/>
  <path d="M1530,545 L1700,545 L1700,385 Q1840,390 1840,540 Q1840,690 1690,690 Q1570,690 1530,545 Z"/>
  <circle cx="1630" cy="750" r="48"/>
  <circle cx="1765" cy="750" r="48"/>
 </g>
 <g transform="translate(1456,50) scale(0.096)">
  <circle cx="258" cy="645" r="42"/>
  <path d="M300,690 Q350,665 430,690 Q470,720 460,770 L500,790 Q520,820 510,850 L520,880 L500,880 L470,820 L430,800 Q380,770 330,740 L300,780 L250,860 L230,860 L270,760 Z"/>
  <circle cx="782" cy="455" r="55"/>
  <path d="M740,540 Q830,520 840,580 L840,720 Q830,790 760,790 Q700,780 670,700 L640,720 L600,820 L570,840 L560,810 L590,700 Q620,650 660,650 L700,660 L710,620 L630,640 L625,625 Z"/>
  <g fill="none" stroke="#58585b" stroke-width="16" stroke-linecap="round">
   <path d="M155,805 L175,850 M225,830 L240,860 M300,830 L320,885 M300,850 L350,815 M420,830 L430,860 M560,840 L600,840 L640,830 L680,860 M700,880 L750,815 M740,860 L780,815 M865,850 L885,795"/>
  </g>
  <circle cx="1680" cy="305" r="238" fill="none" stroke="#58585b" stroke-width="17"/>
  <path d="M1688,545 L1688,885" stroke="#58585b" stroke-width="20"/>
  <circle cx="1540" cy="607" r="52"/>
  <path d="M1150,855 Q1300,780 1470,700 Q1530,680 1530,710 Q1500,760 1400,800 Q1250,850 1160,865 Z"/>
  <path d="M1610,620 Q1600,820 1220,885" fill="none" stroke="#58585b" stroke-width="16"/>
 </g>
 <g transform="translate(1650,50) scale(0.096)">
  <circle cx="438" cy="410" r="50"/>
  <path d="M400,480 L440,480 L580,540 Q595,555 580,560 L450,540 L430,600 L465,720 L460,740 L320,740 L315,715 L390,705 L330,630 Q320,600 340,580 Z"/>
  <ellipse cx="580" cy="612" rx="40" ry="26" transform="rotate(45 580 612)"/>
  <ellipse cx="670" cy="630" rx="44" ry="20" transform="rotate(-42 670 630)"/>
  <path d="M620,645 L630,730" stroke="#58585b" stroke-width="14"/>
  <path d="M545,735 L705,735" stroke="#58585b" stroke-width="16"/>
  <path d="M1110,175 L1270,140 L1300,255 L1240,230 Z"/>
  <path d="M1215,215 L1275,145" stroke="#fff" stroke-width="8"/>
  <path d="M1240,230 Q1300,520 1650,690" fill="none" stroke="#58585b" stroke-width="7"/>
  <circle cx="1258" cy="670" r="30"/>
  <path d="M1230,710 L1290,710 L1330,750 L1320,760 L1280,740 L1280,800 L1290,870 L1275,875 L1255,810 L1220,875 L1205,870 L1225,800 L1225,740 L1170,770 L1165,760 Z"/>
  <ellipse cx="1340" cy="560" rx="30" ry="40"/>
  <path d="M1340,600 Q1320,650 1340,680 Q1350,720 1325,750" fill="none" stroke="#58585b" stroke-width="6"/>
  <circle cx="1725" cy="685" r="25"/>
  <path d="M1650,690 L1700,720 L1740,725 L1760,880 L1745,880 L1720,810 L1695,880 L1680,880 L1690,760 L1650,700 Z"/>
 </g>
 <!-- row 2 -->
 <g transform="translate(1068,194) scale(0.096)">
  <circle cx="368" cy="258" r="75"/>
  <path d="M125,245 Q140,230 160,250 L300,370 Q370,395 440,370 L590,240 Q615,235 610,260 L480,420 Q460,470 460,560 L505,860 Q500,890 475,880 L370,700 L260,880 Q235,890 230,860 L280,600 Q270,470 250,420 L130,270 Z"/>
  <ellipse cx="615" cy="425" rx="55" ry="38" transform="rotate(-15 615 425)"/>
  <ellipse cx="800" cy="470" rx="58" ry="40" transform="rotate(-15 800 470)"/>
  <path d="M660,410 L735,240 M850,455 L905,290" stroke="#58585b" stroke-width="18"/>
  <path d="M730,235 L915,280 L905,320 L725,275 Z"/>
  <circle cx="1410" cy="215" r="85"/>
  <path d="M1440,340 Q1490,350 1495,420 L1555,880 L1540,885 L1420,660 L1280,890 L1265,885 L1330,500 Q1350,360 1440,340 Z"/>
  <path d="M1610,150 L1800,125 L1800,560 L1610,460 Z" fill="none" stroke="#8a8a8c" stroke-width="12"/>
  <ellipse cx="1712" cy="250" rx="40" ry="58"/>
  <ellipse cx="1680" cy="325" rx="30" ry="88" fill="none" stroke="#58585b" stroke-width="20"/>
 </g>
 <g transform="translate(1262,194) scale(0.096)">
  <circle cx="262" cy="175" r="80"/>
  <circle cx="715" cy="175" r="80"/>
  <path d="M195,330 Q220,285 270,285 Q330,300 330,350 L330,580 L310,880 Q290,910 260,910 Q240,900 230,870 L205,580 Z"/>
  <path d="M255,350 L475,520" stroke="#58585b" stroke-width="60" stroke-linecap="round"/>
  <path d="M255,350 L470,515" stroke="#fff" stroke-width="8" fill="none"/>
  <path d="M645,320 Q665,285 710,285 Q775,290 780,330 L780,660 L645,660 Z"/>
  <path d="M660,370 L485,525" stroke="#58585b" stroke-width="55" stroke-linecap="round"/>
  <path d="M605,690 Q610,675 625,675 L820,675 Q840,680 840,700 L840,800 Q830,900 715,905 Q610,900 605,800 Z"/>
  <path d="M210,590 L325,590 M645,575 L780,575 M605,790 L840,790 M610,860 L830,860" stroke="#fff" stroke-width="10"/>
  <rect x="690" y="310" width="50" height="315" rx="25" fill="none" stroke="#fff" stroke-width="9"/>
  <circle cx="718" cy="795" r="20" fill="none" stroke="#fff" stroke-width="9"/>
  <circle cx="1495" cy="155" r="82"/>
  <path d="M1440,285 Q1495,270 1550,290 L1770,440 L1845,440 L1845,480 L1760,490 L1580,410 L1585,510 L1395,510 L1405,410 L1240,495 Q1205,490 1215,465 Z"/>
  <rect x="1145" y="510" width="700" height="32" rx="10"/>
  <rect x="1180" y="540" width="630" height="375" fill="none" stroke="#58585b" stroke-width="22"/>
  <rect x="1765" y="210" width="85" height="170" rx="35" fill="none" stroke="#8a8a8c" stroke-width="10"/>
  <path d="M1785,250 L1830,250 M1785,275 L1830,275 M1785,300 L1830,300 M1785,325 L1830,325 M1805,380 L1805,440" stroke="#8a8a8c" stroke-width="8"/>
 </g>
 <g transform="translate(1456,194) scale(0.096)">
  <circle cx="512" cy="190" r="85"/>
  <path d="M410,310 Q510,290 620,310 Q650,330 670,380 L740,490 Q750,540 700,550 L640,530 L620,560 L650,900 L635,905 L515,670 L380,910 L365,905 L415,560 L400,530 L330,550 Q280,540 290,490 L360,390 Q380,330 410,310 Z"/>
  <path d="M400,360 Q510,380 630,355 L625,460 Q580,455 570,480 Q590,510 610,530 L520,555 L470,540 Q440,500 450,470 Q420,450 405,460 Z" fill="#fff"/>
  <circle cx="1170" cy="375" r="72"/>
  <path d="M1120,500 Q1170,475 1240,500 L1370,640 Q1395,690 1390,760 L1385,880 L1365,890 L1340,760 L1160,760 Q1100,760 1100,720 L1105,560 Q1110,520 1120,500 Z"/>
  <path d="M1248,600 L1248,678 L1335,675 Z" fill="#fff"/>
  <rect x="1520" y="240" width="395" height="35"/>
  <rect x="1520" y="480" width="395" height="35"/>
  <path d="M1520,225 L1915,225 M1520,532 L1915,532" stroke="#8a8a8c" stroke-width="8"/>
  <g fill="#fff"><rect x="1540" y="250" width="22" height="14"/><rect x="1595" y="250" width="22" height="14"/><rect x="1655" y="250" width="22" height="14"/><rect x="1715" y="250" width="22" height="14"/><rect x="1775" y="250" width="22" height="14"/><rect x="1835" y="250" width="22" height="14"/><rect x="1540" y="490" width="22" height="14"/><rect x="1595" y="490" width="22" height="14"/><rect x="1655" y="490" width="22" height="14"/><rect x="1715" y="490" width="22" height="14"/><rect x="1775" y="490" width="22" height="14"/><rect x="1835" y="490" width="22" height="14"/></g>
  <path d="M1603,275 L1603,480 M1838,275 L1838,480" stroke="#58585b" stroke-width="16"/>
  <circle cx="1722" cy="375" r="52" fill="none" stroke="#8a8a8c" stroke-width="8"/>
  <path d="M1700,350 L1750,378 L1700,405 Z"/>
  <path d="M1250,350 L1510,270 M1250,365 L1530,510" stroke="#8a8a8c" stroke-width="8" stroke-dasharray="22 14"/>
 </g>
 <g transform="translate(1650,194) scale(0.096)">
  <circle cx="518" cy="218" r="82"/>
  <path d="M470,340 Q520,325 560,350 Q590,390 600,420 L730,520 Q755,545 735,555 L590,470 L590,560 L645,700 Q600,725 570,730 L550,885 L520,885 L510,780 L495,885 L470,885 L455,730 Q410,720 390,700 L425,560 L400,470 Q390,420 420,380 Z"/>
  <path d="M305,480 L420,500 L405,640 L280,620 Z"/>
  <circle cx="1297" cy="240" r="80"/>
  <path d="M1250,350 Q1300,340 1370,380 L1450,450 L1560,410 Q1590,415 1570,440 L1480,505 Q1440,510 1400,490 L1380,560 L1470,900 Q1465,920 1445,910 L1300,680 L1200,905 Q1180,915 1175,895 L1225,560 L1230,390 Q1235,355 1250,350 Z"/>
  <circle cx="1720" cy="285" r="178" fill="none" stroke="#9a9a9c" stroke-width="10"/>
  <g fill="#7a7a7c"><circle cx="1718" cy="185" r="30"/><rect x="1700" y="240" width="45" height="160"/><rect x="1675" y="240" width="70" height="22"/><rect x="1670" y="390" width="105" height="22"/></g>
 </g>
 <!-- row 3 -->
 <g transform="translate(1068,338) scale(0.096)">
  <circle cx="262" cy="565" r="45"/>
  <path d="M115,570 L125,565 L215,640 L300,640 L385,565 L395,575 L320,665 L320,780 L335,890 L310,890 L255,800 L195,890 L170,890 L200,780 L195,665 Z"/>
  <circle cx="728" cy="158" r="75"/>
  <path d="M660,270 Q730,240 800,290 Q830,330 830,350 L1000,470 Q1010,495 990,500 L810,420 L800,470 L880,660 Q840,690 800,700 L785,870 L760,870 L745,760 L730,870 L705,870 L680,700 Q620,680 595,650 L630,480 L610,420 Q590,390 600,350 Z"/>
  <path d="M520,430 L625,450 L610,570 L508,555 Z"/>
  <circle cx="1285" cy="200" r="80"/>
  <path d="M1210,345 Q1270,320 1340,345 L1370,380 L1530,575 Q1535,590 1515,590 L1345,420 L1350,560 L1405,900 Q1395,915 1380,905 L1260,670 L1130,910 Q1110,915 1110,895 L1170,560 L1185,450 L1040,525 Q1005,530 1010,500 Z"/>
  <circle cx="1685" cy="565" r="45"/>
  <path d="M1540,580 L1555,570 L1640,640 L1725,640 L1805,565 L1815,575 L1745,665 L1745,780 L1760,890 L1735,890 L1680,800 L1620,890 L1595,890 L1625,780 L1620,665 Z"/>
 </g>
 <g transform="translate(1262,338) scale(0.096)">
  <circle cx="648" cy="325" r="75"/>
  <circle cx="843" cy="255" r="75"/>
  <circle cx="1133" cy="235" r="72"/>
  <circle cx="1350" cy="330" r="72"/>
  <path d="M510,150 L530,150 L540,340 Q560,420 600,440 L750,470 L750,500 L600,495 Q480,560 360,680 L330,740 L310,850 L290,850 L285,700 L310,590 L100,650 Q80,640 90,620 L330,470 Q450,400 490,340 Z"/>
  <path d="M760,440 Q820,400 880,380 L1000,260 L1040,250 L1050,270 L960,380 L920,420 L955,870 L925,875 L840,680 L705,855 L690,855 L760,560 Z"/>
  <path d="M1040,330 Q1100,350 1200,320 L1380,195 L1390,210 L1230,420 L1280,860 L1265,870 L1130,670 L1010,870 L995,860 L1050,540 L1040,420 L990,330 L930,240 Q920,220 940,225 Z"/>
  <path d="M1470,125 L1490,125 L1500,330 Q1520,400 1600,440 L1880,630 Q1895,660 1870,660 L1660,570 L1700,700 L1690,870 L1670,870 L1630,700 L1560,560 Q1460,510 1380,490 L1240,490 L1240,460 L1370,430 Q1440,380 1460,320 Z"/>
 </g>
 <g transform="translate(1456,338) scale(0.096)">
  <circle cx="440" cy="305" r="85"/>
  <path d="M360,450 Q400,415 460,425 L670,600 Q680,625 660,640 L525,560 L525,670 Q600,640 660,660 Q700,690 705,760 L715,860 Q700,880 675,870 L640,760 Q540,820 450,815 Q340,800 330,730 L340,500 Q345,465 360,450 Z"/>
  <circle cx="1375" cy="215" r="85"/>
  <path d="M1330,345 Q1380,335 1440,370 L1540,440 L1640,400 Q1665,400 1650,420 L1560,500 Q1510,510 1480,490 L1460,570 L1545,900 Q1540,915 1520,910 L1390,670 L1265,905 Q1245,910 1250,890 L1300,560 L1310,380 Q1315,350 1330,345 Z"/>
  <path d="M1615,280 L1800,280 Q1850,285 1850,325 Q1845,355 1800,355 Q1770,390 1720,395 Q1640,390 1615,280 Z"/>
  <ellipse cx="1812" cy="322" rx="18" ry="20" fill="#fff"/>
  <path d="M1700,180 Q1680,200 1700,220 Q1720,240 1700,255 M1740,150 Q1720,175 1740,200 Q1760,225 1740,255" fill="none" stroke="#58585b" stroke-width="10"/>
 </g>
 <g transform="translate(1650,338) scale(0.096)">
  <circle cx="663" cy="300" r="85"/>
  <path d="M415,360 Q430,345 445,360 L490,460 L640,420 Q700,425 705,490 Q700,560 650,640 L590,740 Q570,755 540,750 L420,750 L300,850 L260,850 L350,690 Q400,640 480,640 L530,580 L550,520 L480,520 Q440,510 430,460 Z"/>
  <path d="M375,195 L455,345" stroke="#58585b" stroke-width="12"/>
  <circle cx="1282" cy="215" r="82"/>
  <path d="M1235,345 Q1280,335 1340,375 L1440,440 L1545,400 Q1570,400 1560,420 L1480,490 Q1440,510 1380,480 L1360,520 L1450,900 Q1440,920 1420,910 L1290,670 L1185,905 Q1160,910 1155,895 L1210,540 L1215,380 Q1220,350 1235,345 Z"/>
  <path d="M1580,175 L1660,175 L1680,140 L1780,140 L1800,175 L1885,175 L1885,385 L1580,385 Z" fill="#88888a"/>
  <circle cx="1727" cy="285" r="52" fill="#fff"/>
 </g>
</g>

<text x="1575.5" y="1026" font-family="Liberation Sans, sans-serif" font-size="24.5" fill="#1e1e1e" textLength="264" lengthAdjust="spacingAndGlyphs" transform="translate(1575.5,1026) scale(1,1) translate(-1575.5,-1026)" style="font-weight:normal">SYSTEMS OF ACTIVITIES</text>

</svg>
</body></html>
